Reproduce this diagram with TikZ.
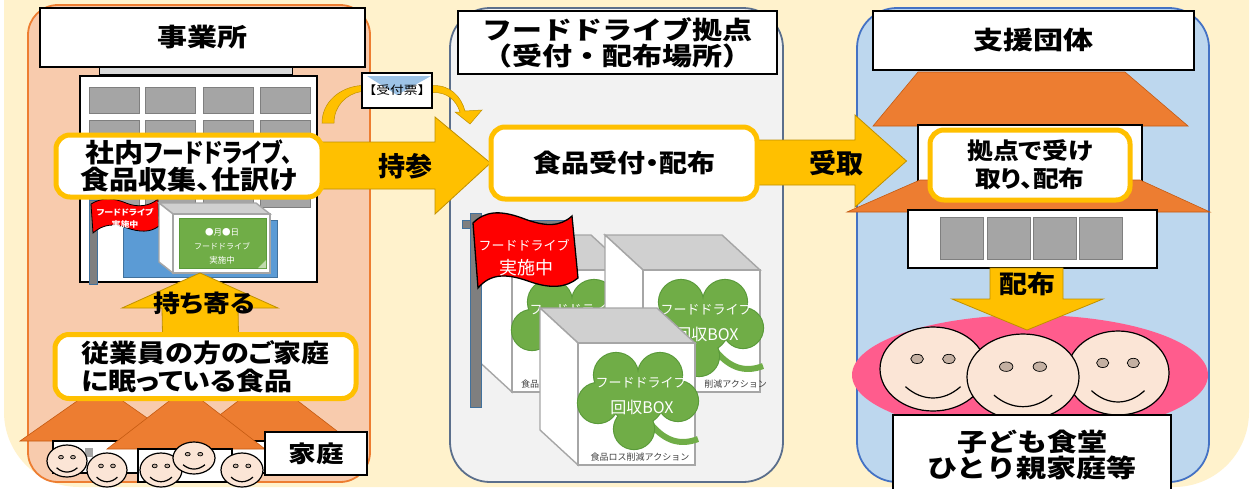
\documentclass[tikz,border=0pt]{standalone}
\usepackage{fontspec}
\usetikzlibrary{calc,arrows.meta}
\newfontfamily\jpb{Noto Sans CJK JP}[FakeStretch=1.2]
\newfontfamily\jpc{Noto Sans CJK JP}[FakeStretch=1.12,RawFeature=+palt]
\newfontfamily\jpk{Noto Sans CJK JP}[FakeStretch=0.84,RawFeature=+palt]
\newfontfamily\jpr{Noto Sans CJK JP}
\newcommand\fs[2]{\fontsize{#1}{#2}\selectfont}

\definecolor{yel}{HTML}{FFC000}
\definecolor{yeldk}{HTML}{BF9000}
\definecolor{orng}{HTML}{ED7D31}
\definecolor{orngdk}{HTML}{C55A11}
\definecolor{peach}{HTML}{F8CBAD}
\definecolor{panelgray}{HTML}{F2F2F2}
\definecolor{slate}{HTML}{5B6F8C}
\definecolor{lblue}{HTML}{BDD7EE}
\definecolor{mblue}{HTML}{4472C4}
\definecolor{cream}{HTML}{FFF2CC}
\definecolor{wingray}{HTML}{A5A5A5}
\definecolor{winedge}{HTML}{7F7F7F}
\definecolor{skin}{HTML}{FBE5D6}
\definecolor{eyec}{HTML}{C4B0A2}
\definecolor{pinkc}{HTML}{FF5C8D}
\definecolor{clover}{HTML}{70AD47}
\definecolor{cloverdk}{HTML}{5A9A3A}
\definecolor{cubetop}{HTML}{D0D0D0}
\definecolor{cubeedge}{HTML}{A6A6A6}
\definecolor{flagblue}{HTML}{41719C}
\definecolor{poleg}{HTML}{7F7F7F}
\definecolor{flap}{HTML}{9DC3E6}
\definecolor{bluearea}{HTML}{5B9BD5}
\definecolor{txtgray}{HTML}{404040}

\pgfdeclarelayer{bg}
\pgfdeclarelayer{arr}
\pgfsetlayers{bg,arr,main}

% smiling face: centre x, centre y, x radius, y radius
\newcommand\smiley[4]{%
  \draw[fill=skin,line width=1.2] (#1,#2) ellipse [x radius=#3, y radius=#4];
  \draw[fill=eyec,line width=0.7] ({#1-0.3*#3},{#2-0.24*#4}) ellipse [x radius={0.12*#3}, y radius={0.11*#4}];
  \draw[fill=eyec,line width=0.7] ({#1+0.3*#3},{#2-0.24*#4}) ellipse [x radius={0.12*#3}, y radius={0.11*#4}];
  \draw[line width=1.2] ({#1-0.52*#3},{#2+0.42*#4}) .. controls ({#1-0.2*#3},{#2+0.78*#4}) and ({#1+0.2*#3},{#2+0.78*#4}) .. ({#1+0.52*#3},{#2+0.42*#4});
}
% open cube: front top-left x, y, width, height, depth x, depth y
\newcommand\boxcube[6]{%
  \draw[cubeline,fill=cubetop] (#1,#2) -- ({#1+#3},#2) -- ({#1+#3+#5},{#2+#6}) -- ({#1+#5},{#2+#6}) -- cycle;
  \draw[cubeline,fill=white] (#1,#2) -- ({#1+#5},{#2+#6}) -- ({#1+#5},{#2+#6+#4}) -- (#1,{#2+#4}) -- cycle;
  \draw[cubeline,fill=white] (#1,#2) rectangle ({#1+#3},{#2+#4});
}
% four-leaf clover around a centre
\newcommand\clover[2]{%
  \draw[clover,line width=6] ({#1+12},{#2+24}) .. controls ({#1+28},{#2+44}) and ({#1+44},{#2+46}) .. ({#1+60},{#2+40});
  \foreach \pa/\pb/\pr in {-22/-24/22, 22/-24/22, -40/4/20, 40/2/20, -4/30/20, 0/0/26}
    {\draw[cloverdk,line width=2.2] ({#1+\pa},{#2+\pb}) circle[radius=\pr];}
  \foreach \pa/\pb/\pr in {-22/-24/22, 22/-24/22, -40/4/20, 40/2/20, -4/30/20, 0/0/26}
    {\fill[clover] ({#1+\pa},{#2+\pb}) circle[radius=\pr];}
}
% collection box: front top-left x, y, name prefix, footer anchor, footer x offset, footer text
\newcommand\collectbox[6]{%
  \boxcube{#1}{#2}{117}{122}{-38}{-35}
  \clover{#1+60}{#2+56}
  \node[text=white,inner sep=1,font=\jpr\fs{13}{13}] (#3a) at ({#1+63},{#2+39}) {フードドライブ};
  \node[text=white,inner sep=1,font=\jpr\fs{16}{16}] (#3b) at ({#1+64},{#2+64}) {回収BOX};
  \node[text=txtgray,inner sep=0,anchor=#4,font=\jpr\fs{9}{10}] (#3c) at ({#1+#5},{#2+114}) {#6};
}

\begin{document}
\begin{tikzpicture}[x=1pt,y=-1pt,
  titlebox/.style={draw=black,line width=1.3,fill=white,inner sep=0},
  ybox/.style={draw=yel,line width=5,fill=white,rounded corners=14,inner sep=0},
  blockarrow/.style={fill=yel,draw=yeldk,line width=0.8},
  roof/.style={fill=orng,draw=orngdk,line width=0.6},
  wall/.style={fill=white,draw=black,line width=1.2},
  win/.style={fill=wingray,draw=winedge,line width=1},
  cubeline/.style={draw=cubeedge,line width=1.4},
  pole/.style={fill=poleg,draw=flagblue,line width=1},
  flagcloth/.style={fill=red,draw=black},
  heading/.style={font=\jpb\bfseries\fs{25}{26}},
  boxtext/.style={font=\jpc\bfseries\fs{26}{27}},
  arrowtext/.style={font=\jpr\bfseries\fs{27}{27}}
]
\useasboundingbox (0,0) rectangle (1252,488);

\begin{pgfonlayer}{bg}
  \clip (0,0) rectangle (1252,488);
  \fill[white] (0,0) rectangle (1252,488);
  \fill[cream,rounded corners=75] (4,-100) rectangle (1249,487);
  % three panels
  \draw[draw=orng,line width=1.8,fill=peach,rounded corners=30] (28,5) rectangle (370,482);
  \draw[draw=slate,line width=1.8,fill=panelgray,rounded corners=40] (450,8) rectangle (783,482);
  \draw[draw=mblue,line width=1.8,fill=lblue,rounded corners=40] (857,8) rectangle (1209,482);

  % office building
  \draw[fill=black!15,line width=1] (99,67) rectangle (292,74);
  \draw[wall] (80,76) rectangle (317,282);
  \foreach \x in {89,145,203,260}
    \foreach \y in {87,120,153,181}
      \draw[win] (\x,\y) rectangle ++(50,26);
  \draw[fill=bluearea,draw=flagblue,line width=1] (123,220) rectangle (277,277);
  \draw[pole] (89,200) rectangle (97,284);
  \draw[flagcloth,line width=0.8] (91,204) .. controls (102,197) and (114,198) .. (126,203) .. controls (138,208) and (150,206) .. (158,199) -- (159,226) .. controls (150,233) and (139,232) .. (127,228) .. controls (115,223) and (103,224) .. (93,233) -- cycle;
  \node[text=white,font=\jpc\bfseries\fs{8}{8}] (sflag1) at (125,212) {フードドライブ};
  \node[text=white,font=\jpc\bfseries\fs{8}{8}] (sflag2) at (125,224) {実施中};
  \boxcube{173}{214}{97}{59}{-14}{-11}
  \draw[fill=clover,draw=cloverdk,line width=0.8] (179,218) rectangle (266,268);
  \fill[clover!45] (266,260) -- (266,268) -- (258,268) -- cycle;
  \node[text=white,font=\jpr\fs{8.5}{9}] (notice1) at (222,232) {●月●日};
  \node[text=white,font=\jpr\fs{8}{9}] (notice2) at (222,246) {フードドライブ};
  \node[text=white,font=\jpr\fs{8.5}{9}] (notice3) at (222,260) {実施中};

  % collection boxes and banner at the drop-off point
  \collectbox{512}{270}{bl}{west}{9}{食品}
  \collectbox{643}{270}{br}{east}{124}{削減アクション}
  \collectbox{578}{343}{bf}{center}{62}{食品ロス削減アクション}
  \draw[pole] (462,220) rectangle (568,228);
  \draw[pole] (470,213) rectangle (481,407);
  \draw[flagcloth,line width=1.3] (473,223) .. controls (485,211) and (500,210) .. (522,218) .. controls (545,227) and (560,227) .. (572,216) -- (578,278) .. controls (566,288) and (550,289) .. (528,281) .. controls (505,273) and (490,274) .. (478,288) -- cycle;
  \node[text=white,font=\jpr\fs{13}{13}] (bflag1) at (524,245) {フードドライブ};
  \node[text=white,font=\jpr\fs{18}{18}] (bflag2) at (526,268) {実施中};

  % support group building
  \draw[roof] (918,72) -- (1125,72) -- (1188,126) -- (873,126) -- cycle;
  \draw[wall] (918,125) rectangle (1142,182);
  \draw[roof] (920,180) -- (1140,180) -- (1210,212) -- (847,212) -- cycle;
  \draw[wall] (908,210) rectangle (1157,268);
  \foreach \x in {940,987,1033,1079}
    \draw[win] (\x,217) rectangle ++(43,42);
  \fill[pinkc] (1030,375) ellipse [x radius=178, y radius=60];
\end{pgfonlayer}

% headings
\node[titlebox,heading,minimum width=325,minimum height=59] (jigyo) at (202.5,37.5) {事業所};
\node[titlebox,heading,minimum width=319,minimum height=63,align=center] (kyotenT) at (617.5,42.5) {フードドライブ拠点\\（受付・配布場所）};
\node[titlebox,heading,minimum width=321,minimum height=59] (shien) at (1033.5,40.5) {支援団体};

% homes
\draw[roof] (20,441) -- (100,385) -- (180,441) -- cycle;
\draw[roof] (186,441) -- (268,378) -- (350,441) -- cycle;
\draw[wall] (53,441) rectangle (140,473);
\fill[wingray] (85,448) rectangle (93,457);
\draw[wall] (230,441) rectangle (290,473);
\draw[roof] (107,449) -- (186,388) -- (265,449) -- cycle;
\draw[wall] (138,449) rectangle (232,482);
\smiley{67}{461}{20}{16}
\smiley{107}{470}{20}{17}
\smiley{161}{470}{21}{17}
\smiley{242}{470}{21}{17}
\smiley{194}{458}{21}{16}
\node[titlebox,font=\jpb\bfseries\fs{23}{23},minimum width=102,minimum height=43] (katei) at (316,453.5) {家庭};

% people served
\smiley{933}{369}{53}{42}
\smiley{1118}{373}{51}{42}
\smiley{1023}{377}{56}{43}
\node[titlebox,heading,minimum width=278,minimum height=80,align=center] (kodomo) at (1032,455) {子ども食堂\\ひとり親家庭等};

% rounded text boxes
\node[ybox,boxtext,minimum width=266,minimum height=62,align=center] (shanai) at (189,166) {社内{\jpk フードドライブ、}\\食品収集、仕訳け};
\node[ybox,font=\jpc\bfseries\fs{25}{28},minimum width=301,minimum height=64,align=left] (juugyo) at (205.5,366.5) {従業員の方のご家庭\\に眠っている食品};
\node[ybox,font=\jpc\bfseries\fs{25}{25},minimum width=266,minimum height=72] (uke) at (624,163) {食品受付・配布};
\node[ybox,font=\jpc\bfseries\fs{23}{28},minimum width=200,minimum height=70,align=center] (kyoten) at (1030,165) {拠点で受け\\取り、配布};

% receipt slip
\node[titlebox,minimum width=70,minimum height=35,
  path picture={\fill[flap] ($(path picture bounding box.north west)+(5,3)$) -- ($(path picture bounding box.north east)+(-1,3)$) -- ($(path picture bounding box.north)+(0,22)$) -- cycle;},
  font=\jpb\fs{11.5}{12}] (hyo) at (397,90.5) {【受付票】};

% connection points of the block arrows
\coordinate (dropin) at (200,273);
\coordinate (lowwall) at (1026.5,268);
\coordinate (crowd) at (1027,330);

\begin{pgfonlayer}{arr}
  % carried to the drop-off point
  \draw[blockarrow] ($(shanai.east)+(-6,-24)$) -- (435,142) -- (435,117) -- ($(uke.west)+(2,0)$) -- (435,214) -- (435,189) -- ($(shanai.east)+(-6,23)$) -- cycle;
  % received by the support group
  \draw[blockarrow] ($(uke.east)+(-6,-23)$) -- (855,140) -- (855,115) -- ($(kyoten.west)+(-21,-4)$) -- (855,207) -- (855,185) -- ($(uke.east)+(-6,22)$) -- cycle;
  % brought from home
  \draw[blockarrow] ($(juugyo.north)+(-43,2)$) -- (162,308) -- (122,308) -- (dropin) -- (278,308) -- (238,308) -- ($(juugyo.north)+(33,2)$) -- cycle;
  % handed out
  \draw[blockarrow] ($(lowwall)+(-36.5,0)$) -- ($(lowwall)+(36.5,0)$) -- (1063,299) -- (1103,299) -- (crowd) -- (952,299) -- (990,299) -- cycle;
  % receipt slip hand-over
  \draw[fill=yel,draw=yeldk,line width=0.5] (322,123) .. controls (322,102) and (340,87) .. ($(hyo.west)+(0,-5)$) -- ($(hyo.west)+(0,1)$) .. controls (346,94) and (334,106) .. (334,123) -- cycle;
  \draw[fill=yel,draw=yeldk,line width=0.5] ($(hyo.east)+(0,-5)$) .. controls (450,85) and (461,96) .. (465,111) -- (482,110) -- (470,124) -- (455,112) -- (460,112) .. controls (456,100) and (447,92) .. ($(hyo.east)+(0,2)$) -- cycle;
\end{pgfonlayer}

% arrow captions
\node[arrowtext] (jisan) at (405,166) {持参};
\node[arrowtext] (uketori) at (836,163) {受取};
\node[font=\jpc\bfseries\fs{24}{24}] (mochiyoru) at (204,303) {持ち寄る};
\node[font=\jpc\bfseries\fs{25}{25}] (haifu) at (1027,284) {配布};
\end{tikzpicture}
\end{document}
